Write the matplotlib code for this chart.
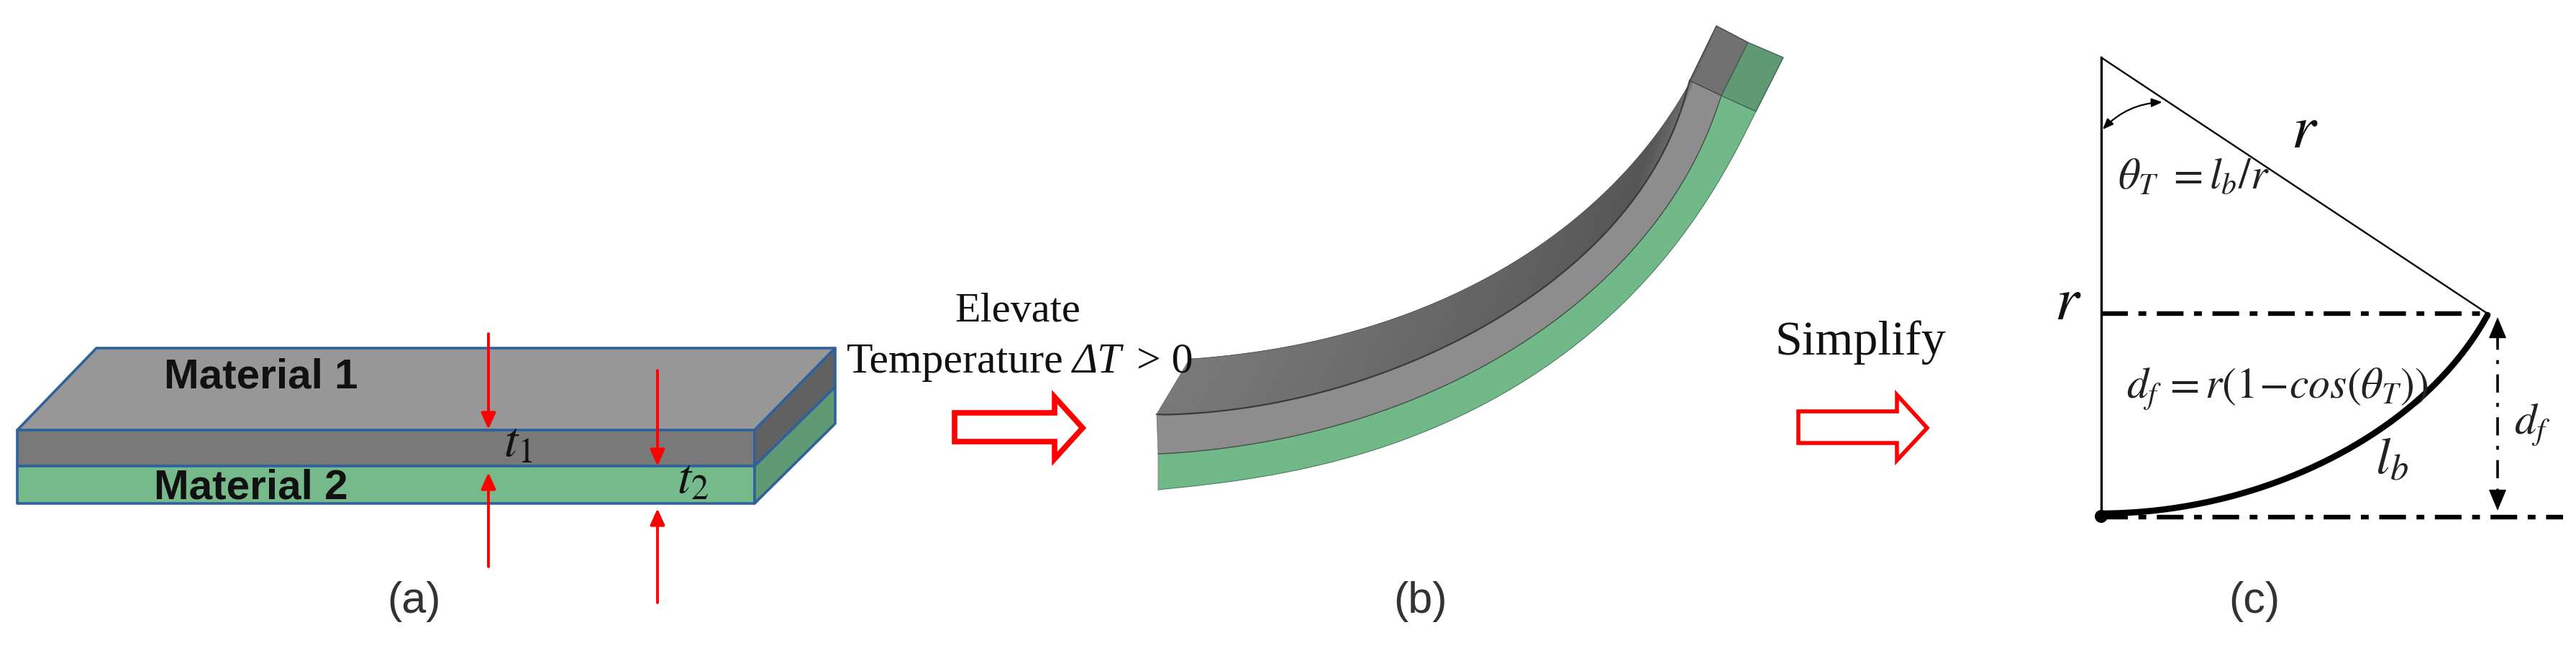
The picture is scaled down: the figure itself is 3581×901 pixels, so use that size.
import numpy as np
import matplotlib
matplotlib.use("Agg")
import matplotlib.pyplot as plt
from matplotlib.patches import Polygon, Circle
from matplotlib.collections import PolyCollection
from matplotlib.colors import to_rgb

plt.rcParams['mathtext.fontset'] = 'stix'
SERIF = 'Liberation Serif'
SANS = 'Liberation Sans'

# Panel (a): plate corners (pixel frame of the figure)
plate_top = [(134, 484), (1161, 484), (1049, 598), (24, 598)]
plate_front1 = [(24, 598), (1049, 598), (1049, 648), (24, 648)]
plate_front2 = [(24, 648), (1049, 648), (1049, 700), (24, 700)]
plate_side1 = [(1049, 598), (1161, 484), (1161, 538), (1049, 648)]
plate_side2 = [(1049, 648), (1161, 538), (1161, 589), (1049, 700)]
thickness_arrows = [((679, 464), (679, 597)), ((679, 788), (679, 657)),
                    ((914, 515), (914, 648)), ((914, 838), (914, 707))]

# Panel (b): edges of the bent strip
edge_back = [(1654, 499), (1763, 488), (1890, 457), (2018, 412), (2113, 359),
             (2209, 286), (2273, 229), (2337, 131), (2386, 36)]
edge_front = [(1608, 576), (1699, 573), (1826, 547), (1954, 506), (2050, 461),
              (2145, 400), (2209, 347), (2273, 278), (2317, 196), (2349, 112)]
edge_mid = [(1610, 631), (1699, 624), (1826, 600), (1954, 559), (2082, 498),
            (2177, 433), (2273, 347), (2337, 253), (2393, 133)]
edge_bottom = [(1610, 681), (1740, 664), (1877, 637), (2018, 584), (2145, 510),
               (2273, 408), (2380, 265), (2441, 155)]
end_gray = [(2386, 36), (2430, 59), (2393, 133), (2349, 112)]
end_green = [(2430, 59), (2479, 80), (2441, 155), (2393, 133)]

# Hollow arrows
hollow_1 = [(1327, 574), (1466, 574), (1466, 552), (1505, 595), (1466, 638), (1466, 614), (1327, 614)]
hollow_2 = [(2500, 572), (2637, 572), (2637, 549), (2679, 595), (2637, 640), (2637, 616), (2500, 616)]

# Panel (c)
apex = (2921, 80)
foot = (2921, 718)
tip = (3458, 436)
bend_arc = [(2921, 714), (3078, 696), (3191, 660), (3304, 600), (3379, 540), (3432, 479), (3458, 438)]
angle_arc = [(2923, 180), (2972, 169), (3006, 142)]
upper_dash = [(2921, 3458), (436, 436)]
lower_dash = [(2921, 3563), (719, 719)]
df_arrow = [(3472, 441), (3472, 710)]


def smooth(points, deg=4, n=80):
    p = np.array(points, float)
    s = np.r_[0, np.cumsum(np.hypot(*np.diff(p, axis=0).T))]
    s /= s[-1]
    t = np.linspace(0, 1, n)
    out = np.c_[np.polyval(np.polyfit(s, p[:, 0], deg), t), np.polyval(np.polyfit(s, p[:, 1], deg), t)]
    out[0], out[-1] = p[0], p[-1]
    return out


fig = plt.figure(figsize=(35.81, 9.01), dpi=100)
ax = fig.add_axes([0, 0, 1, 1])
ax.set_xlim(0, 3581)
ax.set_ylim(901, 0)
ax.axis('off')

# ---------- (a)
BLUE = '#2f629c'
for pts, col in [(plate_top, '#979797'), (plate_front1, '#797979'), (plate_front2, '#76ba8c'),
                 (plate_side1, '#616161'), (plate_side2, '#5f9a75')]:
    ax.add_patch(Polygon(pts, closed=True, fc=col, ec=BLUE, lw=2.6, joinstyle='round'))
for start, end in thickness_arrows:
    ax.annotate('', xy=end, xytext=start,
                arrowprops=dict(arrowstyle='-|>,head_length=0.85,head_width=0.38', color='#ff0000',
                                lw=2.8, shrinkA=0, shrinkB=0, mutation_scale=16))
ax.text(228, 540, 'Material 1', family=SANS, size=42, weight='bold', color='#111111', va='baseline')
ax.text(214, 694, 'Material 2', family=SANS, size=42, weight='bold', color='#111111', va='baseline')
ax.text(700, 635, r'$t_{\mathit{1}}$', size=50, va='baseline', color='#111111')
ax.text(941, 686, r'$t_{\mathit{2}}$', size=50, va='baseline', color='#111111')

# ---------- (b)
A = smooth(edge_back)
B = smooth(edge_front)
C = smooth(edge_mid)
D = smooth(edge_bottom, deg=5)
ax.add_patch(Polygon(np.r_[B, C[::-1]], closed=True, fc='#8d8d8d', ec='none'))
ax.add_patch(Polygon(np.r_[C, D[::-1]], closed=True, fc='#72b98a', ec='none'))
c0, c1, c2 = (np.array(to_rgb(c)) for c in ('#797979', '#555555', '#7a7a7a'))
quads, cols = [], []
for i in range(len(A) - 1):
    quads.append([A[i], A[i + 1], B[i + 1], B[i]])
    f = i / (len(A) - 2)
    cols.append(c0 + (c1 - c0) * f / 0.8 if f < 0.8 else c1 + (c2 - c1) * (f - 0.8) / 0.2)
ax.add_collection(PolyCollection(quads, facecolors=cols, edgecolors=cols, linewidths=0.6))
ax.add_patch(Polygon(end_gray, closed=True, fc='#717171', ec='#444444', lw=1))
ax.add_patch(Polygon(end_green, closed=True, fc='#5f9a75', ec='#3c6650', lw=1))
ax.plot(B[:, 0], B[:, 1], color='#3a3a3a', lw=1.6)
ax.plot(C[:, 0], C[:, 1], color='#3f4f45', lw=1.0)
ax.plot(D[:, 0], D[:, 1], color='#4d7d5e', lw=0.8)
ax.plot(A[:, 0], A[:, 1], color='#555555', lw=0.6)
ax.plot([edge_back[0][0], edge_front[0][0], edge_mid[0][0], edge_bottom[0][0]],
        [edge_back[0][1], edge_front[0][1], edge_mid[0][1], edge_bottom[0][1]], color='#777777', lw=0.6)

# ---------- arrows and captions
ax.add_patch(Polygon(hollow_1, closed=True, fc='white', ec='#ff0000', lw=5.5, joinstyle='miter'))
ax.add_patch(Polygon(hollow_2, closed=True, fc='white', ec='#ff0000', lw=4.0, joinstyle='miter'))
ax.text(1415, 447, 'Elevate', family=SERIF, size=42, ha='center', va='baseline', color='#111111')
ax.text(1177, 518, 'Temperature', family=SERIF, size=43, va='baseline', color='#111111')
ax.text(1491, 518, '\u0394T', family=SERIF, style='italic', size=43, va='baseline', color='#111111')
ax.text(1580, 518, '> 0', family=SERIF, size=43, va='baseline', color='#111111')
ax.text(2468, 493, 'Simplify', family=SERIF, size=49, va='baseline', color='#111111')
for x, label in [(576, '(a)'), (1975, '(b)'), (3134, '(c)')]:
    ax.text(x, 852, label, family=SANS, size=44, ha='center', va='baseline', color='#333333')

# ---------- (c)
ax.plot([apex[0], foot[0]], [apex[1], foot[1]], color='black', lw=2.4)
ax.plot([apex[0], tip[0]], [apex[1], tip[1]], color='black', lw=1.7)
for xs, ys in (upper_dash, lower_dash):
    ax.plot(xs, ys, color='black', lw=4.6, linestyle=(0, (5.8, 2.3, 1.7, 2.3)))
arc = smooth(bend_arc, deg=4)
ax.plot(arc[:, 0], arc[:, 1], color='black', lw=6.2, solid_capstyle='round')
ax.add_patch(Circle(foot, 9, fc='black', ec='none'))
ax.annotate('', xy=angle_arc[0], xytext=angle_arc[2],
            arrowprops=dict(arrowstyle='<|-|>,head_length=0.55,head_width=0.22', color='black', lw=1.6,
                            connectionstyle='arc3,rad=0.2', shrinkA=0, shrinkB=0, mutation_scale=16))
ax.plot([df_arrow[0][0]] * 2, [df_arrow[0][1] + 20, df_arrow[1][1] - 20], color='black', lw=2.6,
        linestyle=(0, (7, 4, 1.5, 4)))
for a, b in ((df_arrow[0], df_arrow[1]), (df_arrow[1], df_arrow[0])):
    ax.annotate('', xy=a, xytext=(a[0], a[1] + (28 if a[1] < b[1] else -28)),
                arrowprops=dict(arrowstyle='-|>,head_length=1.2,head_width=0.5', color='black', lw=1,
                                shrinkA=0, shrinkB=0, mutation_scale=16))
ax.text(3185, 205, r'$r$', size=62, va='baseline', color='#111111')
ax.text(2856, 444, r'$r$', size=62, va='baseline', color='#111111')
ax.text(2944, 262, r'$\theta_T\ = l_b/r$', size=43, va='baseline', color='#222222')
ax.text(2956, 553, r'$d_f\, = r(\mathit{1}\!-\!cos(\theta_T))$', size=43, va='baseline', color='#222222')
ax.text(3302, 658, r'$l_b$', size=52, va='baseline', color='#222222')
ax.text(3495, 603, r'$d_f$', size=44, va='baseline', color='#222222')

fig.savefig('out.png', dpi=100, facecolor='white')
